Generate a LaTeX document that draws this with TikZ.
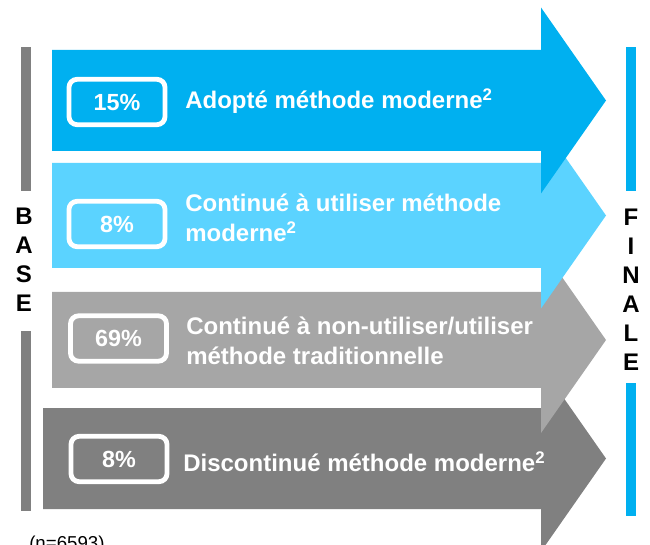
\documentclass[tikz,border=0pt]{standalone}
\usepackage{fontspec}
\setmainfont{Liberation Sans}

\definecolor{flechebleu}{HTML}{00B0F0}
\definecolor{flecheciel}{HTML}{5BD3FF}
\definecolor{flechegris}{HTML}{A6A6A6}
\definecolor{flechefonce}{HTML}{808080}

\tikzset{
  pct/.style={draw=white, line width=3.6pt, rounded corners=6pt,
    minimum width=72pt, minimum height=34pt, text=white,
    font=\bfseries\fontsize{17.5}{21}\selectfont},
  lbl/.style={anchor=west, text=white, align=left, inner sep=0pt,
    font=\bfseries\fontsize{18}{22.5}\selectfont},
  lettres/.style={align=center, inner sep=0pt,
    font=\bfseries\fontsize{18}{21.75}\selectfont},
}

\begin{document}
\begin{tikzpicture}[x=0.75pt, y=-0.75pt]
		\useasboundingbox (0,0) rectangle (650,545);

		% flèches, de la dernière à la première
		\foreach \xa/\ya/\yb/\col in {
				43/408/509/flechefonce,
				52/292/388/flechegris,
				52/163/268/flecheciel,
				52/50/151/flechebleu} {
				\pgfmathsetmacro{\ym}{(\ya+\yb)/2}
				\fill[fill=\col] (\xa,\ya) -- (541,\ya) -- (541,\ym-93) -- (606,\ym)
					-- (541,\ym+93) -- (541,\yb) -- (\xa,\yb) -- cycle;
			}

		% barres
		\fill[flechefonce] (21,47) rectangle (31,191);
		\fill[flechefonce] (21,331) rectangle (31,511);
		\fill[flechebleu] (626,47) rectangle (636,191);
		\fill[flechebleu] (626,383) rectangle (636,516);

		\node[lettres] (base) at (24,260) {B\\A\\S\\E};
		\node[lettres] (finale) at (631,290) {F\\I\\N\\A\\L\\E};

		\node[pct] (p1) at (117,102) {15\%};
		\node[pct] (p2) at (117,224) {8\%};
		\node[pct] (p3) at (118.5,338.5) {69\%};
		\node[pct] (p4) at (119,459) {8\%};

		\node[lbl] (t1) at (185,101) {Adopté méthode moderne\textsuperscript{2}};
		\node[lbl] (t2) at (185,218) {Continué à utiliser méthode\\moderne\textsuperscript{2}};
		\node[lbl] (t3) at (186,341) {Continué à non-utiliser/utiliser\\méthode traditionnelle};
		\node[lbl] (t4) at (183,462) {Discontinué méthode moderne\textsuperscript{2}};

		\node[anchor=north west, inner sep=0pt, font=\fontsize{14}{16}\selectfont] (n) at (29,536) {(n=6593)};
	\end{tikzpicture}
\end{document}
